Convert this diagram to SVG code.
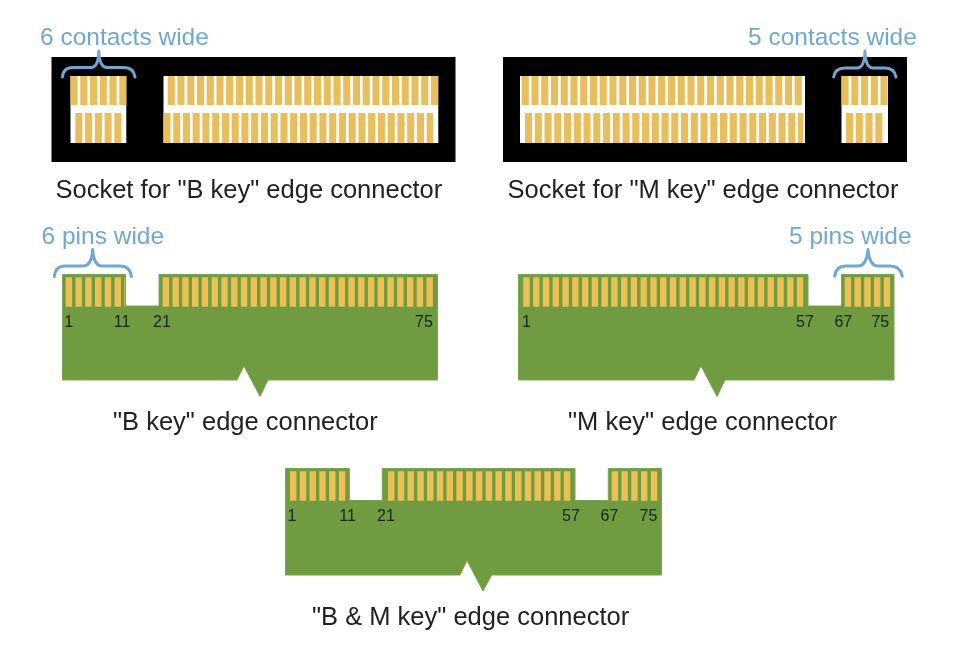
<svg xmlns="http://www.w3.org/2000/svg" width="966" height="655" viewBox="0 0 966 655">
<defs>
<filter id="soft" x="0" y="0" width="966" height="655" filterUnits="userSpaceOnUse"><feGaussianBlur stdDeviation="0.55"/></filter>
</defs>
<style>
text{font-family:"Liberation Sans",Arial,sans-serif}
.cap{font-size:25.5px;fill:#222}
.note{font-size:24.5px;fill:#6fa8d2}
.num{font-size:16px;fill:#14240a;text-anchor:middle}
.shell{fill:#000}
.well{fill:#fff}
.ct{fill:none;stroke:#e8bf5c;stroke-dasharray:7.1 2.65}
.pin{fill:none;stroke:#ebc155;stroke-width:29.5;stroke-dasharray:6.4 3.37}
.board{fill:#6f9b3f;stroke:#7ba552;stroke-width:1}
.brace{fill:none;stroke:#6fa8d2;stroke-width:3;stroke-linecap:round;stroke-linejoin:round}
</style>
<rect width="966" height="655" fill="#fff"/>
<g filter="url(#soft)">
<g id="socket-b">
<rect class="shell" x="51.5" y="57" width="404" height="105"/>
<rect class="well" x="70.5" y="76" width="55.8" height="67"/>
<rect class="well" x="163.5" y="76" width="274.8" height="67"/>
<line class="ct" stroke-width="29" x1="70.5" y1="90.5" x2="126.3" y2="90.5"/>
<line class="ct" stroke-width="30" x1="75.3" y1="128" x2="121.5" y2="128"/>
<line class="ct" stroke-width="29" x1="167.7" y1="90.5" x2="438.3" y2="90.5"/>
<line class="ct" stroke-width="30" x1="163.4" y1="128" x2="433" y2="128"/>
<path class="brace" d="M62.5 77C63 71 66 67.5 73 67.5H91C96 67.5 98.5 62 98.8 51C99.2 62 102 67.5 107 67.5H124C131 67.5 134 71 135 77"/>
<text class="note" x="40" y="45">6 contacts wide</text>
<text class="cap" x="55.5" y="198">Socket for "B key" edge connector</text>
</g>
<g id="socket-m">
<rect class="shell" x="503" y="57" width="404" height="105"/>
<rect class="well" x="520" y="76" width="285" height="67"/>
<rect class="well" x="841.5" y="76" width="46.5" height="67"/>
<line class="ct" stroke-width="29" x1="521.7" y1="90.5" x2="804" y2="90.5"/>
<line class="ct" stroke-width="30" x1="525" y1="128" x2="803.5" y2="128"/>
<line class="ct" stroke-width="29" x1="841.5" y1="90.5" x2="888" y2="90.5"/>
<line class="ct" stroke-width="30" x1="846" y1="128" x2="882.5" y2="128"/>
<path class="brace" d="M833.7 77C834.5 71 838 68 845 68H857C862 68 864.7 62 865 51C865.3 62 868 68 873 68H885C892 68 895 71 896 77"/>
<text class="note" x="748" y="45">5 contacts wide</text>
<text class="cap" x="507.5" y="198">Socket for "M key" edge connector</text>
</g>
<g id="edge-b">
<path class="board" d="M62.5 274.5H125.5V306H159V274.5H437.5V380H268L260 396.5L244 366L237 380H62.5Z"/>
<line class="pin" x1="65.7" y1="292" x2="125" y2="292"/>
<line class="pin" x1="162.7" y1="292" x2="433.2" y2="292"/>
<text class="num" x="68.7" y="326.5">1</text>
<text class="num" x="122" y="326.5">11</text>
<text class="num" x="162" y="326.5">21</text>
<text class="num" x="424" y="326.5">75</text>
<path class="brace" d="M54.3 276.5C55 270 58 266 65 266H83C88 266 92 262 92.7 249.5C93.4 262 97 266 102 266H120C127 266 130.5 270 131.3 276.5"/>
<text class="note" x="41.5" y="244">6 pins wide</text>
<text class="cap" x="113" y="430">"B key" edge connector</text>
</g>
<g id="edge-m">
<path class="board" d="M518.5 274.5H808V306H841.5V274.5H894V380H725L717 396.5L701 366L694 380H518.5Z"/>
<line class="pin" x1="523.3" y1="292" x2="803.2" y2="292"/>
<line class="pin" x1="844.7" y1="292" x2="891" y2="292"/>
<text class="num" x="526.5" y="326.5">1</text>
<text class="num" x="805" y="326.5">57</text>
<text class="num" x="843.3" y="326.5">67</text>
<text class="num" x="880.3" y="326.5">75</text>
<path class="brace" d="M834.7 276C835.5 270 839 266 846 266H858C863 266 867 262 868 249.5C869 262 873 266 878 266H890C897 266 901 270 902.3 276"/>
<text class="note" x="789" y="244">5 pins wide</text>
<text class="cap" x="568" y="430">"M key" edge connector</text>
</g>
<g id="edge-bm">
<path class="board" d="M285.5 468.5H349.3V500.5H382.3V468.5H575V500.5H608.3V468.5H661.5V575H491.7L483 591L467 560.5L460 575H285.5Z"/>
<line class="pin" x1="290" y1="486" x2="348" y2="486"/>
<line class="pin" x1="388" y1="486" x2="571" y2="486"/>
<line class="pin" x1="611.7" y1="486" x2="658" y2="486"/>
<text class="num" x="292" y="520.5">1</text>
<text class="num" x="347.5" y="520.5">11</text>
<text class="num" x="386" y="520.5">21</text>
<text class="num" x="571" y="520.5">57</text>
<text class="num" x="609.5" y="520.5">67</text>
<text class="num" x="648.5" y="520.5">75</text>
<text class="cap" x="312" y="625">"B &amp; M key" edge connector</text>
</g>
</g>
</svg>
